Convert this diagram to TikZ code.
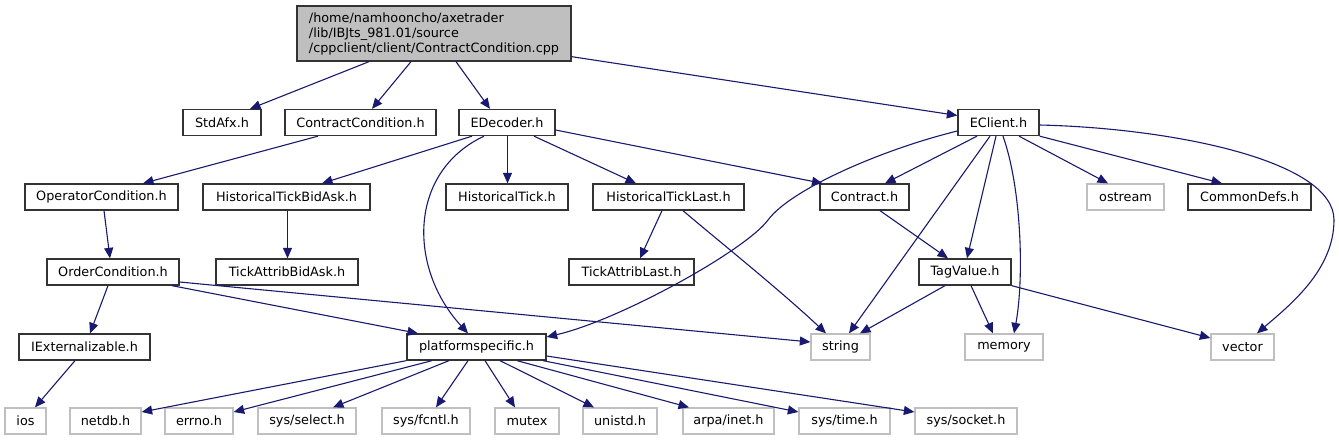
\documentclass[tikz,border=0pt]{standalone}
\usepackage{fontspec}
\setmainfont{DejaVu Sans}
\usetikzlibrary{arrows.meta,calc}
\definecolor{dxblue}{HTML}{191970}
\definecolor{gry}{HTML}{BFBFBF}
\begin{document}
\begin{tikzpicture}[x=1pt,y=-1pt,
  box/.style={draw=black!80, line width=1.3pt, fill=white, minimum height=26pt, inner sep=0pt, font=\fontsize{12.8}{15}\selectfont, text=black},
  gbox/.style={box, draw=gry},
  dep/.style={draw=dxblue, line width=1.1pt, -{Triangle[length=10.5pt,width=9pt]}}]
\useasboundingbox[fill=white] (0,0) rectangle (1339,440);
% nodes
\node[box, fill=gry, minimum width=274pt, minimum height=55pt, align=left] (root) at (434,33.5) {/home/namhooncho/axetrader\\/lib/IBJts\_981.01/source\\/cppclient/client/ContractCondition.cpp};
\node[box, minimum width=78pt] (stdafx) at (222,122.5) {StdAfx.h};
\node[box, minimum width=151pt] (cc) at (360.5,122.5) {ContractCondition.h};
\node[box, minimum width=96pt] (edec) at (507,122.5) {EDecoder.h};
\node[box, minimum width=81pt] (eclient) at (998.5,122.5) {EClient.h};
\node[box, minimum width=153pt] (opc) at (101.5,197) {OperatorCondition.h};
\node[box, minimum width=167pt] (htba) at (286.5,197) {HistoricalTickBidAsk.h};
\node[box, minimum width=122pt] (ht) at (507,197) {HistoricalTick.h};
\node[box, minimum width=151pt] (htl) at (668.5,197) {HistoricalTickLast.h};
\node[box, minimum width=89pt] (contract) at (864.5,197) {Contract.h};
\node[gbox, minimum width=77pt] (ostream) at (1125.5,197) {ostream};
\node[box, minimum width=123pt] (cdefs) at (1249.5,197) {CommonDefs.h};
\node[box, minimum width=132pt] (ordc) at (113,272) {OrderCondition.h};
\node[box, minimum width=142pt] (taba) at (287,272) {TickAttribBidAsk.h};
\node[box, minimum width=125pt] (tal) at (631.5,272) {TickAttribLast.h};
\node[box, minimum width=92pt] (tagv) at (965,272) {TagValue.h};
\node[box, minimum width=131pt] (iext) at (84.5,347) {IExternalizable.h};
\node[box, minimum width=139pt] (ps) at (476.5,347) {platformspecific.h};
\node[gbox, minimum width=59pt] (string) at (840.5,347) {string};
\node[gbox, minimum width=78pt] (memory) at (1004,347) {memory};
\node[gbox, minimum width=63pt] (vector) at (1242.5,347) {vector};
\node[gbox, minimum width=41pt] (ios) at (25.5,421) {ios};
\node[gbox, minimum width=71pt] (netdb) at (105.5,421) {netdb.h};
\node[gbox, minimum width=68pt] (errno) at (199,421) {errno.h};
\node[gbox, minimum width=98pt] (select) at (307,421) {sys/select.h};
\node[gbox, minimum width=88pt] (fcntl) at (426,421) {sys/fcntl.h};
\node[gbox, minimum width=64pt] (mutex) at (527,421) {mutex};
\node[gbox, minimum width=74pt] (unistd) at (620,421) {unistd.h};
\node[gbox, minimum width=91pt] (arpa) at (728.5,421) {arpa/inet.h};
\node[gbox, minimum width=91pt] (systime) at (844.5,421) {sys/time.h};
\node[gbox, minimum width=102pt] (socket) at (966,421) {sys/socket.h};
% edges
\draw[dep] ([xshift=-65pt]root.south) -- ([xshift=28pt]stdafx.north);
\draw[dep] ([xshift=-23pt]root.south) -- ([xshift=11.5pt]cc.north);
\draw[dep] ([xshift=22pt]root.south) -- ([xshift=-17pt]edec.north);
\draw[dep] ([yshift=5pt]root.south east) -- ([yshift=7pt]eclient.west);
\draw[dep] ([xshift=-42.5pt]cc.south) -- ([xshift=41.5pt]opc.north);
\draw[dep] ([xshift=-35pt]edec.south) -- ([xshift=35.5pt]htba.north);
\draw[dep] ([xshift=-23pt]edec.south) .. controls (408,172) and (408,268) .. ([xshift=-8.5pt]ps.north);
\draw[dep] ([xshift=0.5pt]edec.south) -- ([xshift=0.5pt]ht.north);
\draw[dep] ([xshift=27pt]edec.south) -- ([xshift=-32.5pt]htl.north);
\draw[dep] ([yshift=-7.5pt]edec.east) -- ([xshift=-42pt]contract.north);
\draw[dep] ([yshift=-8.5pt]eclient.west) .. controls (880,150) and (790,190) .. (768,220) .. controls (746,250) and (620,320) .. ([yshift=10pt]ps.east);
\draw[dep] ([xshift=-21.5pt]eclient.south) -- ([xshift=20.5pt]contract.north);
\draw[dep] ([xshift=-8.5pt]eclient.south) -- ([xshift=8.5pt]string.north);
\draw[dep] ([xshift=-2.5pt]eclient.south) -- ([xshift=2pt]tagv.north);
\draw[dep] ([xshift=4.5pt]eclient.south) .. controls (1022,190) and (1024,280) .. ([xshift=10pt]memory.north);
\draw[dep] ([xshift=20.5pt]eclient.south) -- ([xshift=-17.5pt]ostream.north);
\draw[dep] (eclient.south east) -- ([xshift=-27.5pt]cdefs.north);
\draw[dep] ([yshift=-2.5pt]eclient.east) .. controls (1170,128) and (1334,160) .. (1334,220) .. controls (1334,270) and (1290,305) .. ([xshift=14.5pt]vector.north);
\draw[dep] ([xshift=2.5pt]opc.south) -- ([xshift=-3pt]ordc.north);
\draw[dep] ([xshift=1pt]htba.south) -- ([xshift=0.5pt]taba.north);
\draw[dep] ([xshift=-6.5pt]htl.south) -- ([xshift=8.5pt]tal.north);
\draw[dep] ([xshift=14.5pt]htl.south) .. controls (715,238) and (780,290) .. ([xshift=-14.5pt]string.north);
\draw[dep] ([xshift=15.5pt]contract.south) -- ([xshift=-17pt]tagv.north);
\draw[dep] ([xshift=-5pt]ordc.south) -- ([xshift=5.5pt]iext.north);
\draw[dep] ([xshift=59pt]ordc.south) -- ([xshift=-58.5pt]ps.north);
\draw[dep] ([yshift=-10pt]ordc.east) -- ([yshift=5pt]string.west);
\draw[dep] ([xshift=-20pt]tagv.south) -- ([xshift=19.5pt]string.north);
\draw[dep] ([xshift=6pt]tagv.south) -- ([xshift=-11pt]memory.north);
\draw[dep] (tagv.south east) -- ([yshift=9pt]vector.west);
\draw[dep] ([xshift=-9.5pt]iext.south) -- ([xshift=9.5pt]ios.north);
\draw[dep] (ps.south west) -- ([yshift=9pt]netdb.east);
\draw[dep] ([xshift=-44.5pt]ps.south) -- ([yshift=9pt]errno.east);
\draw[dep] ([xshift=-27.5pt]ps.south) -- ([xshift=26pt]select.north);
\draw[dep] ([xshift=-8.5pt]ps.south) -- ([xshift=10pt]fcntl.north);
\draw[dep] ([xshift=8.5pt]ps.south) -- ([xshift=-12pt]mutex.north);
\draw[dep] ([xshift=23.5pt]ps.south) -- ([xshift=-26pt]unistd.north);
\draw[dep] ([xshift=40.5pt]ps.south) -- ([xshift=-39.5pt]arpa.north);
\draw[dep] ([xshift=66.5pt]ps.south) -- ([yshift=9pt]systime.west);
\draw[dep] ([yshift=-9pt]ps.east) -- ([yshift=9pt]socket.west);
\end{tikzpicture}
\end{document}
